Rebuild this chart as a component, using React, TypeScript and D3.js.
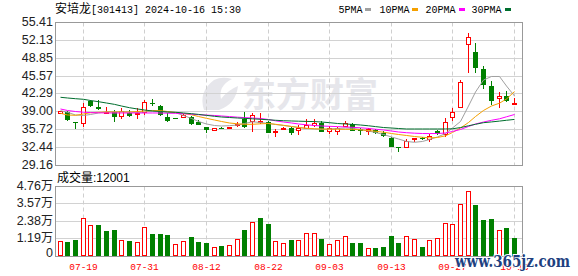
import React from 'react';
import * as d3 from 'd3';

const dates = [
  '07-16','07-17','07-18','07-19','07-22','07-23','07-24','07-25','07-26','07-29','07-30','07-31',
  '08-01','08-02','08-05','08-06','08-07','08-08','08-09','08-12',
  '08-13','08-14','08-15','08-16','08-19','08-20','08-21','08-22',
  '08-23','08-26','08-27','08-28','08-29','08-30','09-02','09-03',
  '09-04','09-05','09-06','09-09','09-10','09-11','09-12','09-13',
  '09-18','09-19','09-20','09-23','09-24','09-25','09-26','09-27',
  '09-30','10-08','10-09','10-10','10-11','10-14','10-15','10-16',
];

const opens = [38.58,38.94,37.05,36.69,40.91,39.86,38.66,38.83,37.92,38.66,
  38.34,38.66,40.48,39.99,38.03,37.79,37.73,37.92,37.0,36.08,
  35.46,35.95,35.9,36.26,37.55,37.0,37.05,37.0,35.16,35.58,
  35.9,35.4,35.71,36.32,36.93,35.16,35.16,36.19,36.63,35.71,
  35.27,35.58,35.09,34.17,32.41,32.22,33.88,34.1,33.75,35.4,
  34.67,37.73,39.68,51.19,49.96,46.78,43.66,41.28,41.88,40.12];
const highs = [39.15,39.07,37.1,40.49,41.09,41.09,39.86,39.26,39.57,39.26,
  39.57,41.09,41.22,40.17,38.76,37.85,38.52,38.15,37.42,36.19,
  36.0,36.08,36.2,37.0,38.95,38.65,38.76,37.3,35.7,36.1,
  36.19,36.5,37.6,37.55,37.24,36.32,36.2,37.3,36.81,35.9,
  35.9,35.71,35.4,34.35,32.52,33.88,34.2,34.35,34.79,35.64,
  37.85,39.68,44.76,53.45,51.5,47.39,44.58,42.6,42.74,41.4];
const lows = [38.5,37.24,35.71,36.19,39.86,39.26,38.47,37.11,37.6,37.97,
  37.6,38.34,40.05,38.15,37.11,37.55,37.73,36.5,36.5,34.98,
  35.4,35.7,35.7,36.08,35.95,35.16,36.63,34.98,34.35,35.5,
  34.67,34.67,35.71,36.2,35.16,34.79,34.67,36.19,35.46,34.67,
  34.67,34.9,34.35,32.41,31.49,32.22,33.33,33.7,33.33,34.67,
  34.35,37.24,39.57,45.99,45.99,43.11,40.17,39.68,40.67,40.12];
const closes = [39.02,37.42,36.81,39.75,40.05,39.49,38.95,37.92,39.13,38.22,
  38.66,40.78,40.3,38.34,37.24,37.67,38.34,36.63,36.56,35.58,
  35.95,35.82,36.14,36.69,36.08,38.34,37.2,35.09,35.46,36.0,
  34.98,36.0,36.5,36.81,35.16,35.9,35.95,36.81,35.46,35.4,
  35.71,34.98,34.54,32.52,32.22,33.62,34.17,33.95,34.54,34.79,
  37.11,38.95,44.34,52.71,46.91,43.84,40.91,41.83,40.91,40.54];

// volume in 万 (10k shares)
const volumes = [1.01,0.90,1.04,2.60,2.12,2.07,1.66,1.73,1.08,0.97,
  0.94,1.98,1.45,1.45,1.38,0.81,1.01,1.24,0.90,0.83,
  0.60,0.62,0.74,1.15,1.73,2.32,2.55,2.14,1.01,0.83,
  1.04,1.08,1.56,1.56,1.15,0.81,1.08,1.36,0.83,0.83,
  0.53,0.48,0.55,1.31,0.83,1.36,1.15,0.55,1.08,1.22,
  2.25,2.19,3.50,4.39,3.45,2.42,2.48,1.77,1.91,1.2001];

const ma5 = [39.13,38.84,38.34,38.25,38.43,38.71,38.94,38.94,38.94,38.89,
  38.80,38.89,39.07,39.02,38.89,38.76,38.25,37.70,37.15,36.69,
  36.41,36.32,36.38,36.50,36.78,37.09,36.96,36.78,36.60,36.41,
  36.23,36.05,35.86,35.77,35.71,35.77,35.86,35.95,35.90,35.68,
  35.40,35.13,34.76,34.30,33.93,33.48,33.33,33.48,33.84,34.30,
  34.94,35.95,37.15,39.99,42.56,44.76,45.41,45.41,43.66,41.83];
const ma10 = [38.65,38.34,38.28,38.52,38.76,38.84,38.89,38.89,38.89,38.89,
  38.98,39.07,39.17,39.13,38.98,38.80,38.61,38.38,38.06,37.73,
  37.42,37.15,36.87,36.72,36.63,36.63,36.72,36.78,36.63,36.45,
  36.23,36.05,35.90,35.81,35.77,35.73,35.71,35.71,35.71,35.62,
  35.49,35.35,35.18,34.94,34.76,34.58,34.39,34.25,34.15,34.21,
  34.52,35.13,35.95,36.96,38.06,39.17,39.99,40.51,41.28,42.65];
const ma20 = [39.44,39.17,38.98,38.85,38.78,38.74,38.71,38.71,38.71,38.71,
  38.71,38.71,38.71,38.71,38.67,38.65,38.58,38.49,38.39,38.32,
  38.25,38.16,38.05,37.94,37.86,37.79,37.70,37.51,37.27,37.05,
  36.87,36.69,36.54,36.41,36.32,36.26,36.21,36.14,36.08,35.99,
  35.88,35.73,35.59,35.40,35.22,35.09,35.00,34.94,34.93,34.94,
  35.04,35.31,35.68,36.23,36.69,37.05,37.37,37.64,38.01,38.43];
const ma30 = [41.59,41.46,41.33,41.22,41.00,40.78,40.54,40.29,39.99,39.68,
  39.44,39.26,39.07,38.98,38.89,38.84,38.71,38.58,38.45,38.27,
  38.10,37.97,37.88,37.79,37.72,37.64,37.55,37.46,37.37,37.29,
  37.24,37.20,37.16,37.13,37.05,36.93,36.78,36.69,36.61,36.50,
  36.36,36.21,36.04,35.95,35.86,35.77,35.77,35.77,35.77,35.77,
  35.77,35.81,36.03,36.36,36.63,36.93,37.07,37.22,37.37,37.53];

const priceTicks = [55.41, 52.13, 48.85, 45.57, 42.29, 39.0, 35.72, 32.44, 29.16];
const priceTickLabels = ['55.41','52.13','48.85','45.57','42.29','39.00','35.72','32.44','29.16'];
const volTicks = [4.76, 3.57, 2.38, 1.19, 0];
const volTickLabels = ['4.76万','3.57万','2.38万','1.19万','0'];
const dateTicks = ['07-19','07-31','08-12','08-22','09-03','09-13','09-27','10-16'];
const legendNames = ['5PMA','10PMA','20PMA','30PMA'];
const title = { name: '安培龙', rest: '[301413] 2024-10-16 15:30' };
const volLabel = { name: '成交量', rest: ':12001' };

const RED = '#ff0000';
const GREEN = '#008000';
const maColors = ['#a0a0a0', '#f5a000', '#ff00ff', '#006e2e'];
const legendX = [338.5, 379.5, 425.5, 471.5];
const swatchX = [365, 412, 459, 505];

export default function App() {
  const W = 578, H = 276;
  const x = d3.scaleBand<string>().domain(dates).range([55.75, 517.75]).padding(0);
  const yP = d3.scaleLinear().domain([29.16, 55.41]).range([165, 22]);
  const yV = d3.scaleLinear().domain([0, 4.76]).range([255.5, 186]);
  const cx = (d: string) => Math.round((x(d) as number) + x.bandwidth() / 2) + 0.5;
  const crisp = (v: number) => Math.round(v) + 0.5;

  const maSeries = [ma5, ma10, ma20, ma30];
  const line = d3.line<number>()
    .x((_, i) => cx(dates[i]))
    .y((v) => yP(v));

  const L = 55.5, R = 522.5;
  const pTop = crisp(yP(55.41)), pBot = crisp(yP(29.16));
  const vTop = crisp(yV(4.76)), vBot = crisp(yV(0));

  const sans = "'Liberation Sans', Arial, sans-serif";
  const mono = "'Liberation Mono', 'DejaVu Sans Mono', monospace";
  const cjk = "'Noto Sans CJK SC', sans-serif";

  return (
    <svg width={W} height={H} style={{ position: 'absolute', left: 0, top: 0, background: '#fff' }}>
      <rect x={0} y={0} width={W} height={H} fill="#fff" />
      {/* watermark */}
      <g fill="#e6e6eb">
        <path d="M204 110 Q198 92 214 80 Q222 76 232 79 Q218 86 221 99 Q228 90 238 86 Q236 104 219 110 Z" />
        <text x={242} y={107} fontSize={34} fontWeight="bold" fontFamily={cjk}>东方财富</text>
      </g>

      {/* title */}
      <text y={13} fill="#000">
        <tspan x={55} fontSize={12} fontFamily={cjk}>{title.name}</tspan>
        <tspan fontSize={10} fontFamily={mono}>{title.rest}</tspan>
      </text>

      {/* legend */}
      {legendNames.map((n, i) => (
        <g key={n}>
          <text x={legendX[i]} y={13} fontSize={10} fontFamily={mono} fill="#000">{n}</text>
          <rect x={swatchX[i]} y={8} width={6} height={3} fill={maColors[i]} />
        </g>
      ))}

      {/* price grid */}
      {priceTicks.map((t) => (
        <line key={'pg' + t} x1={L} x2={R} y1={crisp(yP(t))} y2={crisp(yP(t))} stroke="#d2d2d2" />
      ))}
      {volTicks.map((t) => (
        <line key={'vg' + t} x1={L} x2={R} y1={crisp(yV(t))} y2={crisp(yV(t))} stroke="#d2d2d2" />
      ))}
      {dateTicks.map((d) => (
        <g key={'vx' + d}>
          <line x1={cx(d)} x2={cx(d)} y1={pTop} y2={pBot} stroke="#cfcfcf" strokeDasharray="4,3" />
          <line x1={cx(d)} x2={cx(d)} y1={vTop} y2={vBot} stroke="#cfcfcf" strokeDasharray="4,3" />
        </g>
      ))}

      {/* borders */}
      <rect x={L} y={pTop} width={R - L} height={pBot - pTop} fill="none" stroke="#999" />
      <rect x={L} y={vTop} width={R - L} height={vBot - vTop} fill="none" stroke="#999" />

      {/* y labels */}
      {priceTicks.map((t, i) => (
        <text key={'pl' + t} x={53} y={yP(t) + 4} textAnchor="end" fontSize={12.5} fontFamily={sans} fill="#222">
          {priceTickLabels[i]}
        </text>
      ))}
      {volTicks.map((t, i) => (
        <text key={'vl' + t} x={53} y={Math.min(yV(t) + 4, 257)} textAnchor="end" fontSize={12.5} fontFamily={sans} fill="#222">
          {volTickLabels[i].replace('万', '')}
          {volTickLabels[i].includes('万') ? <tspan fontFamily={cjk} fontSize={12}>万</tspan> : null}
        </text>
      ))}

      {/* volume label */}
      <text y={182} fill="#000">
        <tspan x={57} fontSize={12} fontFamily={cjk}>{volLabel.name}</tspan>
        <tspan fontSize={12} fontFamily={sans}>{volLabel.rest}</tspan>
      </text>

      {/* candles */}
      {dates.map((d, i) => {
        const c = cx(d);
        const up = closes[i] >= opens[i];
        const col = up ? RED : GREEN;
        const top = yP(Math.max(opens[i], closes[i]));
        const bot = yP(Math.min(opens[i], closes[i]));
        const yt = Math.round(top), yb = Math.max(Math.round(bot), yt + 1);
        return (
          <g key={'c' + d}>
            <line x1={c} x2={c} y1={Math.round(yP(highs[i]))} y2={Math.round(yP(lows[i]))} stroke={col} />
            {up ? (
              <rect x={c - 2} y={yt + 0.5} width={4} height={Math.max(yb - yt - 1, 1)} fill="#fff" stroke={col} />
            ) : (
              <rect x={c - 2.5} y={yt} width={5} height={Math.max(yb - yt, 1)} fill={col} />
            )}
          </g>
        );
      })}

      {/* MA lines */}
      {maSeries.map((s, k) => (
        <path key={'ma' + k} d={line(s) as string} fill="none" stroke={maColors[k]} strokeWidth={1} />
      ))}

      {/* volume bars */}
      {dates.map((d, i) => {
        const c = cx(d);
        const prev = i === 0 ? opens[0] : closes[i - 1];
        const up = closes[i] >= prev;
        const yt = Math.round(yV(volumes[i]));
        const yb = Math.round(yV(0));
        return up ? (
          <rect key={'v' + d} x={c - 2} y={yt + 0.5} width={4} height={yb - yt - 1} fill="#fff" stroke={RED} />
        ) : (
          <rect key={'v' + d} x={c - 2.5} y={yt} width={5} height={yb - yt} fill={GREEN} />
        );
      })}

      {/* x labels */}
      {dateTicks.map((d) => (
        <text key={'xl' + d} x={cx(d)} y={270} textAnchor="middle" fontSize={9.5} fontFamily={mono} fill={RED}>
          {d}
        </text>
      ))}

      {/* site watermark */}
      <text x={455} y={267} fontSize={17} fontWeight="bold" fontFamily="'DejaVu Serif', serif" fill="#20407f"
        stroke="#fff" strokeWidth={2} paintOrder="stroke" textLength={115} lengthAdjust="spacingAndGlyphs">
        www.365jz.com
      </text>
    </svg>
  );
}
